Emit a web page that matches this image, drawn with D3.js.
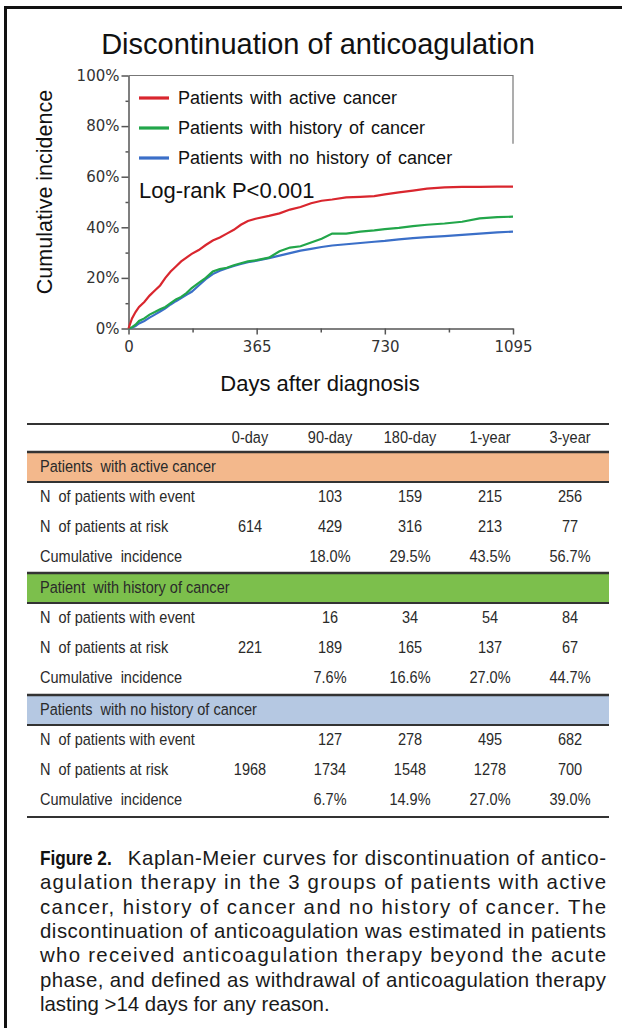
<!DOCTYPE html>
<html><head><meta charset="utf-8">
<script src="https://cdn.jsdelivr.net/npm/d3@7"></script>
<style>html,body{margin:0;padding:0;background:#fff;}svg{display:block;}</style>
</head><body>
<svg id="fig" width="622" height="1028"></svg>
<script>
// ---------- DATA ----------
const days = [0,10,20,30,45,60,75,90,105,120,135,150,165,180,200,220,240,260,280,300,320,340,365,400,430,460,490,520,550,580,620,660,700,730,770,810,850,900,950,1000,1050,1095];
const activeCancer = [0,4,6.5,8.5,10.5,13,15,17,20,22.5,24.5,26.5,28,29.5,31,33,34.8,36,37.5,39,41,42.5,43.5,44.5,45.5,47,48,49.5,50.5,51,51.8,52,52.3,53,53.8,54.5,55.3,55.8,56,56,56.1,56.1];
const historyCancer = [0,0.5,1.5,3,4,5.5,6.5,7.6,8.5,10,11.5,12.5,14,16,18,20,22.5,23.5,24,25,25.8,26.5,27,28,30.5,32,32.5,34,35.5,37.5,37.5,38.3,38.8,39.3,39.8,40.5,41,41.5,42.2,43.5,44,44.2];
const noHistory = [0,0.3,1,2,3,4.3,5.5,6.7,8,9.5,10.8,12,13.3,14.5,17,19.5,21.5,22.8,23.8,24.7,25.5,26.2,26.8,27.8,28.8,29.8,30.8,31.5,32.2,32.8,33.3,33.8,34.3,34.6,35.2,35.7,36.1,36.5,37,37.5,38,38.3];
const seriesNames = ["Patients with active cancer","Patients with history of cancer","Patients with no history of cancer"];
const seriesColors = ["#d9262e","#22a64a","#3b6fc8"];
const xTicks = [0,365,730,1095];
const xMinorTicks = [182.5,547.5,912.5];
const yTicks = [0,20,40,60,80,100];
const yMinorTicks = [10,30,50,70,90];

const tableCols = ["0-day","90-day","180-day","1-year","3-year"];
const groupTitles = ["Patients  with active cancer","Patient  with history of cancer","Patients  with no history of cancer"];
const groupFills = ["#f3b88c","#7cbf4c","#b5c8e2"];
const rowLabels = ["N  of patients with event","N  of patients at risk","Cumulative  incidence"];
const events = [["",103,159,215,256],["",16,34,54,84],["",127,278,495,682]];
const atRisk = [[614,429,316,213,77],[221,189,165,137,67],[1968,1734,1548,1278,700]];
const cumInc = [["","18.0%","29.5%","43.5%","56.7%"],["","7.6%","16.6%","27.0%","44.7%"],["","6.7%","14.9%","27.0%","39.0%"]];

const captionBold = "Figure 2.";
const captionLines = [
  "Kaplan-Meier curves for discontinuation of antico-",
  "agulation therapy in the 3 groups of patients with active",
  "cancer, history of cancer and no history of cancer. The",
  "discontinuation of anticoagulation was estimated in patients",
  "who received anticoagulation therapy beyond the acute",
  "phase, and defined as withdrawal of anticoagulation therapy",
  "lasting >14 days for any reason."
];

// ---------- DRAW ----------
const svg = d3.select("#fig");
const sans = "Liberation Sans, Arial, sans-serif";
const tickFont = "DejaVu Sans, Verdana, sans-serif";

// frame
svg.append("line").attr("x1",4).attr("x2",622).attr("y1",7.5).attr("y2",7.5).attr("stroke","#111").attr("stroke-width",3);
svg.append("line").attr("x1",5.5).attr("x2",5.5).attr("y1",6).attr("y2",1028).attr("stroke","#111").attr("stroke-width",3);

// title
svg.append("text").attr("x",318).attr("y",54).attr("text-anchor","middle")
  .attr("font-family",sans).attr("font-size",29).attr("fill","#111").text("Discontinuation of anticoagulation");

const x = d3.scaleLinear().domain([0,1095]).range([128.5,513]);
const y = d3.scaleLinear().domain([0,100]).range([328.5,75.5]);

const axisColor = "#555";
// legend box edges (top and right)
svg.append("path").attr("d",`M${x(0)},${y(100)}H${x(1095)}V${y(73)}`)
  .attr("fill","none").attr("stroke","#777").attr("stroke-width",1.2);

// y axis
const gy = svg.append("g").attr("transform","translate(128.5,0)")
  .call(d3.axisLeft(y).tickValues(yTicks).tickFormat(d=>d+"%").tickSize(7).tickSizeOuter(0));
gy.select(".domain").attr("stroke",axisColor).attr("stroke-width",1.5);
gy.selectAll(".tick line").attr("stroke",axisColor).attr("stroke-width",1.5);
gy.selectAll(".tick text").attr("font-family",tickFont).attr("font-size",15).attr("fill","#333").attr("x",-9);
svg.append("g").attr("transform","translate(128.5,0)")
  .call(d3.axisLeft(y).tickValues(yMinorTicks).tickFormat("").tickSize(3).tickSizeOuter(0))
  .call(g=>{g.select(".domain").remove();g.selectAll("line").attr("stroke",axisColor).attr("stroke-width",1.5);});

// x axis
const gx = svg.append("g").attr("transform","translate(0,328.5)")
  .call(d3.axisBottom(x).tickValues(xTicks).tickFormat(d3.format("d")).tickSize(6).tickSizeOuter(0));
gx.select(".domain").attr("stroke",axisColor).attr("stroke-width",1.5);
gx.selectAll(".tick line").attr("stroke",axisColor).attr("stroke-width",1.5);
gx.selectAll(".tick text").attr("font-family",tickFont).attr("font-size",15).attr("fill","#333").attr("y",13);
svg.append("g").attr("transform","translate(0,328.5)")
  .call(d3.axisBottom(x).tickValues(xMinorTicks).tickFormat("").tickSize(4).tickSizeOuter(0))
  .call(g=>{g.select(".domain").remove();g.selectAll("line").attr("stroke",axisColor).attr("stroke-width",1.5);});

// axis titles
svg.append("text").attr("x",320).attr("y",391).attr("text-anchor","middle")
  .attr("font-family",sans).attr("font-size",22).attr("fill","#111").text("Days after diagnosis");
svg.append("text").attr("transform","translate(52,192) rotate(-90)").attr("text-anchor","middle")
  .attr("font-family",sans).attr("font-size",21.5).attr("fill","#111").text("Cumulative incidence");

// curves
const allSeries = [activeCancer, historyCancer, noHistory];
const line = d3.line().x(d=>x(d[0])).y(d=>y(d[1])).curve(d3.curveLinear);
[2,1,0].forEach(i=>{
  svg.append("path").datum(days.map((d,j)=>[d,allSeries[i][j]]))
    .attr("d",line).attr("fill","none").attr("stroke",seriesColors[i]).attr("stroke-width",2.2);
});

// legend
seriesNames.forEach((n,i)=>{
  const ly = 98 + i*30;
  svg.append("line").attr("x1",139).attr("x2",169).attr("y1",ly).attr("y2",ly)
    .attr("stroke",seriesColors[i]).attr("stroke-width",3.2);
  svg.append("text").attr("x",178).attr("y",ly+6).attr("font-family",sans).attr("font-size",18)
    .attr("fill","#111").attr("word-spacing",2).text(n);
});
svg.append("text").attr("x",139).attr("y",198).attr("font-family",sans).attr("font-size",22)
  .attr("fill","#111").text("Log-rank P<0.001");

// ---------- TABLE ----------
const colX = d3.scalePoint().domain(tableCols).range([250,570]);
const tx0 = 27, tx1 = 609;
const tFont = 16.5, tScale = 0.88;
const tColor = "#2a2a2a";
function tText(xp, yp, s, anchor){
  svg.append("text").attr("transform",`translate(${xp},${yp+5.5}) scale(${tScale},1)`)
    .attr("text-anchor",anchor||"middle")
    .attr("font-family",sans).attr("font-size",tFont).attr("fill",tColor).attr("xml:space","preserve").text(s);
}
svg.append("line").attr("x1",tx0).attr("x2",tx1).attr("y1",424).attr("y2",424).attr("stroke","#333").attr("stroke-width",2);
tableCols.forEach(c=>tText(colX(c),437,c));

const groupTop = [452, 573, 695];
groupTitles.forEach((g,gi)=>{
  const top = groupTop[gi];
  svg.append("rect").attr("x",tx0).attr("y",top).attr("width",tx1-tx0).attr("height",30).attr("fill",groupFills[gi]);
  svg.append("line").attr("x1",tx0).attr("x2",tx1).attr("y1",top).attr("y2",top).attr("stroke","#333").attr("stroke-width",2.5);
  svg.append("line").attr("x1",tx0).attr("x2",tx1).attr("y1",top+30).attr("y2",top+30).attr("stroke","#333").attr("stroke-width",2);
  tText(40, top+14, g, "start");
  const rows = [events[gi], atRisk[gi], cumInc[gi]];
  rows.forEach((r,ri)=>{
    const ry = top + 44 + ri*30.3;
    tText(40, ry, rowLabels[ri], "start");
    r.forEach((v,ci)=>{ if(v!=="") tText(colX(tableCols[ci]), ry, String(v)); });
  });
});
svg.append("line").attr("x1",tx0).attr("x2",tx1).attr("y1",817).attr("y2",817).attr("stroke","#333").attr("stroke-width",2);

// ---------- CAPTION ----------
const capX0 = 40, capX1 = 606, capY0 = 865, capLH = 24.3, capFont = 20.4;
const boldT = svg.append("text").attr("transform",`translate(${capX0},${capY0}) scale(0.82,1)`)
  .attr("font-family",sans).attr("font-weight","bold").attr("font-size",21).attr("fill","#111").text(captionBold);
const boldW = boldT.node().getComputedTextLength()*0.82;
captionLines.forEach((s,i)=>{
  const xs = i===0 ? capX0 + boldW + 16 : capX0;
  const t = svg.append("text").attr("x",xs).attr("y",capY0 + i*capLH)
    .attr("font-family",sans).attr("font-size",capFont).attr("fill","#1a1a1a").text(s);
  if (i < captionLines.length-1) t.attr("textLength",capX1-xs).attr("lengthAdjust","spacing");
});
</script>
</body></html>
